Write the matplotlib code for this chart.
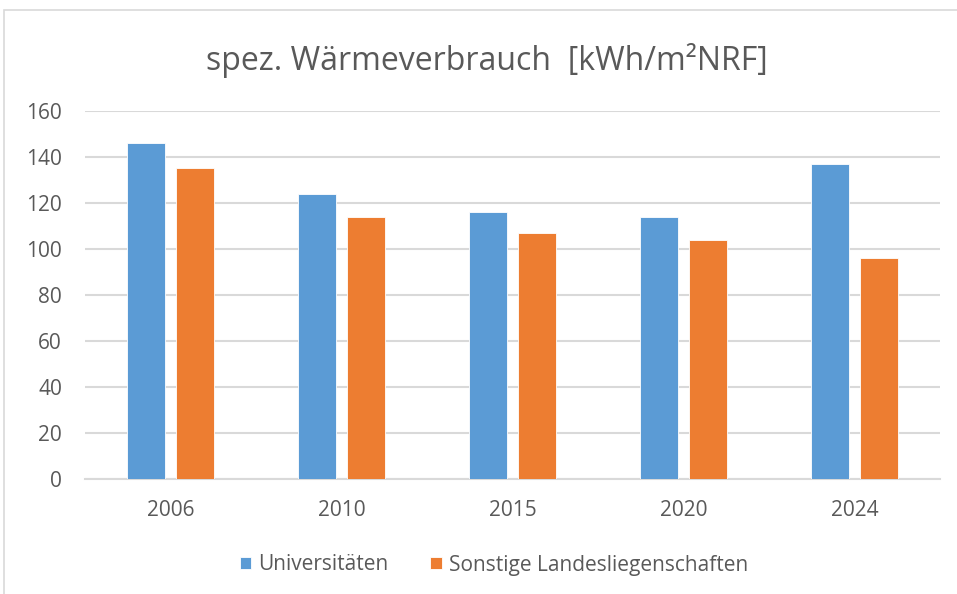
import numpy as np
import matplotlib
matplotlib.use("Agg")
import matplotlib.pyplot as plt
from matplotlib.patches import Rectangle

years = ["2006", "2010", "2015", "2020", "2024"]
universitaeten = [146, 124, 116, 114, 137]
sonstige = [135, 114, 107, 104, 96]
series_names = ["Universitäten", "Sonstige Landesliegenschaften"]
title = "spez. Wärmeverbrauch  [kWh/m²NRF]"

blue = "#5B9BD5"
orange = "#ED7D31"
grey_txt = "#595959"
grid_col = "#D9D9D9"

plt.rcParams["font.family"] = ["Open Sans", "DejaVu Sans"]

fig = plt.figure(figsize=(9.57, 5.94), dpi=100)
ax = fig.add_axes([85 / 957, 1 - 479 / 594, (940 - 85) / 957, (479 - 111) / 594])

# chart frame (cropped on right/bottom like the screenshot)
fig.patches.append(Rectangle((4 / 957, -0.05), 1.2, 1 - 10 / 594 + 0.05,
                             transform=fig.transFigure, fill=False,
                             edgecolor="#D9D9D9", linewidth=1.2))

x = np.arange(len(years))
w = 0.222
off = 0.143
ax.bar(x - off, universitaeten, width=w, color=blue, edgecolor="white",
       linewidth=0.6, label=series_names[0], zorder=3)
ax.bar(x + off, sonstige, width=w, color=orange, edgecolor="white",
       linewidth=0.6, label=series_names[1], zorder=3)

ax.set_xlim(-0.5, len(years) - 0.5)
ax.set_ylim(0, 160)
ax.set_yticks(range(0, 161, 20))
ax.set_xticks(x)
ax.set_xticklabels(years)
ax.yaxis.grid(True, color=grid_col, linewidth=1.5, zorder=0)
ax.set_axisbelow(True)
for s in ["top", "right", "left"]:
    ax.spines[s].set_visible(False)
ax.spines["bottom"].set_color(grid_col)
ax.spines["bottom"].set_linewidth(1.5)
ax.tick_params(axis="both", length=0, labelsize=15, colors=grey_txt)
ax.tick_params(axis="x", pad=15)
ax.tick_params(axis="y", pad=16.5)

fig.text(487 / 957, 1 - 60 / 594, title, ha="center", va="center",
         fontsize=23, color=grey_txt)

fig.legend(loc="center", bbox_to_anchor=(494 / 957, 1 - 565 / 594), ncol=2,
           frameon=False, fontsize=15, labelcolor=grey_txt,
           handlelength=0.55, handleheight=0.55, handletextpad=0.35,
           columnspacing=2.0)

fig.savefig("out.png", dpi=100)
